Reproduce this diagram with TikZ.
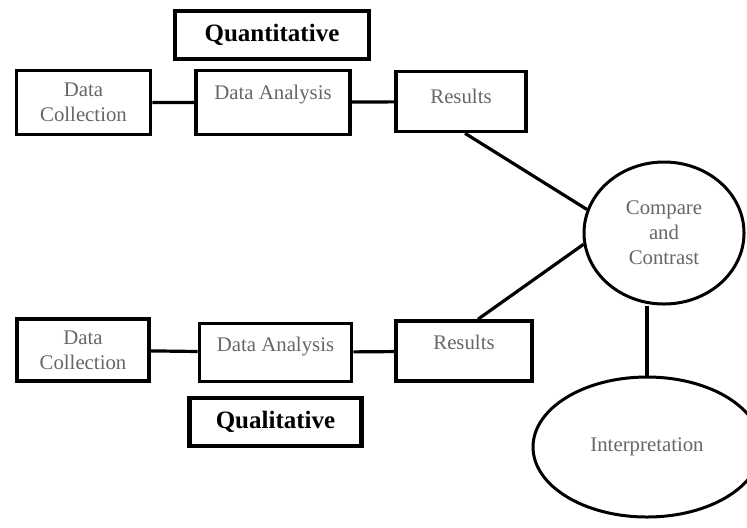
\documentclass[tikz,border=0pt]{standalone}
\usepackage{fontspec}
\setmainfont{Liberation Serif}
\usetikzlibrary{shapes.geometric}
\tikzset{box/.style = {rectangle,draw,line width=1.8pt,inner sep=1pt,align=center,text=black!60,font=\fontsize{10.4}{12.5}\selectfont},
         title/.style = {rectangle,draw,line width=2.2pt,inner sep=1pt,font=\fontsize{12.5}{14}\selectfont\bfseries},
         oval/.style = {ellipse,draw,line width=1.5pt,inner sep=0pt,align=center,text=black!60,font=\fontsize{10.4}{12.5}\selectfont},
         link/.style = {line width=1.6pt}}

\begin{document}
\begin{tikzpicture}[x=0.5pt,y=-0.5pt]
            \useasboundingbox (0,0) rectangle (747,527);
            \clip (0,0) rectangle (747,527);

            % quantitative strand
            \node [title, minimum width=97pt, minimum height=24pt]                  (quant) at (272, 35)    {Quantitative};
            \node [box, minimum width=67pt, minimum height=32pt]                    (dc1)   at (83.5, 102.5) {Data\\Collection};
            \node [box, minimum width=77pt, minimum height=32pt, text depth=10pt]   (da1)   at (273, 102.5) {Data Analysis};
            \node [box, minimum width=65pt, minimum height=30pt, text depth=5pt]    (res1)  at (461, 101.5) {Results};

            % qualitative strand
            \node [box, minimum width=66pt, minimum height=31pt]                    (dc2)   at (83, 350)    {Data\\Collection};
            \node [box, minimum width=76pt, minimum height=29pt, text depth=8pt]    (da2)   at (275.5, 352.5) {Data Analysis};
            \node [box, minimum width=68pt, minimum height=30pt, text depth=8.5pt]  (res2)  at (464, 351)   {Results};
            \node [title, minimum width=86pt, minimum height=24pt]                  (qual)  at (275.5, 422) {Qualitative};

            \node [oval, minimum width=80pt, minimum height=71pt]                   (comp)  at (664, 233)   {Compare\\and\\Contrast};
            \node [oval, minimum width=114pt, minimum height=70pt]                  (interp) at (647, 447)  {Interpretation};

            \draw [link] (dc1) -- (da1) -- (res1);
            \draw [link] (dc2) -- (da2) -- (res2);
            \draw [link] ([xshift=2pt]res1.south) -- (comp.163);
            \draw [link] ([xshift=7pt]res2.north) -- (comp.188);
            \draw [link] (interp.north) -- (interp.north |- comp.south);
        \end{tikzpicture}
\end{document}
